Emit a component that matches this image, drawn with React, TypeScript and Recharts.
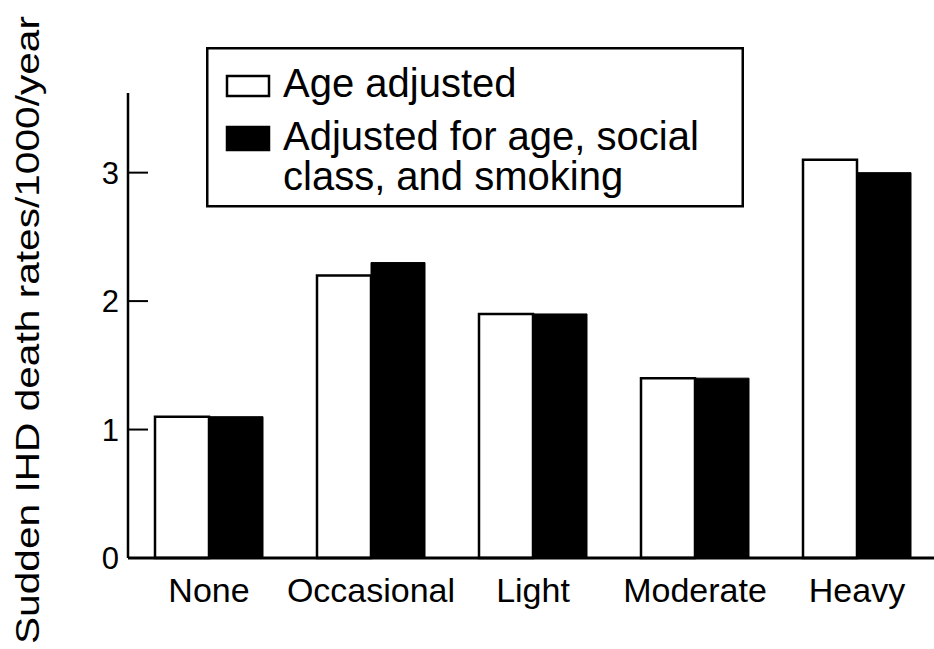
import { BarChart, Bar, XAxis, YAxis, Legend } from 'recharts';

const categories = ['None', 'Occasional', 'Light', 'Moderate', 'Heavy'];
const ageAdjusted = [1.1, 2.2, 1.9, 1.4, 3.1];
const fullyAdjusted = [1.1, 2.3, 1.9, 1.4, 3.0];
const yTicks = [0, 1, 2, 3];
const yLabel = 'Sudden IHD death rates/1000/year';
const legendLines = [['Age adjusted'], ['Adjusted for age, social', 'class, and smoking']];

const data = categories.map((category, i) => ({
  category,
  ageAdjusted: ageAdjusted[i],
  fullyAdjusted: fullyAdjusted[i],
}));

const font = '"Liberation Sans", Arial, Helvetica, sans-serif';

const YTick = ({ x, y, payload }: any) => (
  <g>
    {payload.value !== 0 && (
      <line x1={x} x2={x + 20} y1={y} y2={y} stroke="#000" strokeWidth={2} />
    )}
    <text x={x - 9} y={y} dy={11} textAnchor="end" fontSize={31} fontFamily={font} fill="#000">
      {payload.value}
    </text>
  </g>
);

const YLabel = () => (
  <text
    x={39}
    y={330}
    transform="rotate(-90, 39, 330)"
    textAnchor="middle"
    fontSize={34}
    fontFamily={font}
    fill="#000"
    textLength={628}
    lengthAdjust="spacingAndGlyphs"
  >
    {yLabel}
  </text>
);

const renderLegend = (props: any) => {
  const items = props.payload || [];
  const swatchY = [29, 80];
  const swatchH = [20, 23];
  const lineY = [[50], [103, 143]];
  return (
    <svg width={538} height={161} style={{ display: 'block' }}>
      <rect x={1.25} y={1.25} width={535.5} height={158} fill="#fff" stroke="#000" strokeWidth={2.5} />
      {items.map((entry: any, i: number) => (
        <g key={`leg-${i}`}>
          <rect
            x={21}
            y={swatchY[i]}
            width={42}
            height={swatchH[i]}
            fill={i === 0 ? '#fff' : '#000'}
            stroke="#000"
            strokeWidth={2.5}
          />
          {legendLines[i].map((line, j) => (
            <text key={j} x={77} y={lineY[i][j]} fontSize={40} fontFamily={font} fill="#000">
              {line}
            </text>
          ))}
        </g>
      ))}
    </svg>
  );
};

export default function App() {
  return (
    <div
      style={{
        position: 'absolute',
        left: 0,
        top: 0,
        width: 934,
        height: 649,
        overflow: 'hidden',
        background: '#fff',
      }}
    >
      <BarChart
        width={938}
        height={649}
        data={data}
        margin={{ top: 93, right: 0, bottom: 31, left: 0 }}
        barSize={54}
        barGap={0}
      >
        <XAxis
          dataKey="category"
          height={60}
          interval={0}
          axisLine={{ stroke: '#000', strokeWidth: 3 }}
          tickLine={false}
          tickSize={0}
          tickMargin={20}
          tick={{ fill: '#000', fontSize: 34, fontFamily: font }}
        />
        <YAxis
          width={128}
          domain={[0, 3.62]}
          ticks={yTicks}
          axisLine={{ stroke: '#000', strokeWidth: 2.5 }}
          tickLine={false}
          tickSize={0}
          tickMargin={0}
          tick={<YTick />}
          label={{ content: () => <YLabel /> }}
        />
        <Legend
          layout="horizontal"
          verticalAlign="middle"
          align="center"
          content={renderLegend}
          wrapperStyle={{ position: 'absolute', left: 206, top: 47, width: 538, height: 161 }}
        />
        <Bar
          dataKey="ageAdjusted"
          name={legendLines[0].join(' ')}
          fill="#fff"
          stroke="#000"
          strokeWidth={2.5}
          isAnimationActive={false}
        />
        <Bar
          dataKey="fullyAdjusted"
          name={legendLines[1].join(' ')}
          fill="#000"
          stroke="#000"
          strokeWidth={1}
          isAnimationActive={false}
        />
      </BarChart>
    </div>
  );
}
